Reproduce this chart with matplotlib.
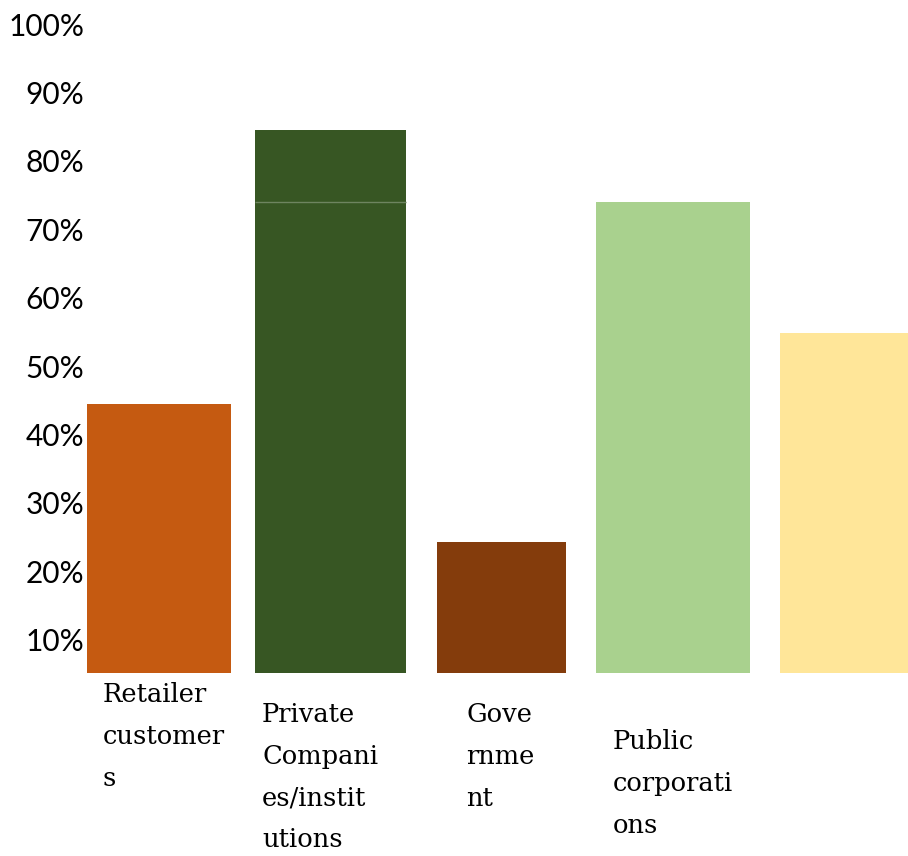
import matplotlib
matplotlib.use("Agg")
import matplotlib.pyplot as plt

# datos
categorias = ["Retailer\ncustomer\ns", "Private\nCompani\nes/instit\nutions",
              "Gove\nrnme\nnt", "Public\ncorporati\nons", ""]
valores = [44.5, 84.5, 24.3, 74.0, 54.8]
ticks = [10, 20, 30, 40, 50, 60, 70, 80, 90, 100]
etiquetas_ticks = [f"{t}%" for t in ticks]

colores = ["#C55A11", "#375623", "#843C0C", "#A9D18E", "#FFE699"]
anchos = [0.84, 0.88, 0.75, 0.90, 0.75]

W, H = 908, 856
fig = plt.figure(figsize=(W / 100, H / 100), dpi=100)

# ejes: de px 87 a 908 en x, de px 10 a 673 en y
ax = fig.add_axes([87 / W, 1 - 673 / H, (W - 87) / W, 663 / H])
x = list(range(len(valores)))
ax.bar(x, valores, width=anchos, color=colores, zorder=2)
# linea clara que cruza la barra verde oscura
ax.hlines(valores[3], x[1] - anchos[1] / 2, x[1] + anchos[1] / 2,
          color="#6E8460", lw=1, zorder=3)

ax.set_xlim(-0.42, 4.374)
ax.set_ylim(5.12, 102.06)
ax.set_yticks(ticks)
ax.set_yticklabels(etiquetas_ticks, family="Lato", fontsize=21.5)
ax.tick_params(axis="y", length=0, pad=2)
ax.set_xticks([])
for s in ax.spines.values():
    s.set_visible(False)

# etiquetas de categoria (posiciones en px del original)
pos_texto = [(103, 682), (262, 702), (466, 702), (613, 729), (780, 700)]
for cat, (px, py) in zip(categorias, pos_texto):
    if cat:
        fig.text(px / W, 1 - py / H, cat, family="DejaVu Serif", fontsize=18.5,
                 va="top", ha="left", linespacing=1.84)

fig.savefig("out.png", dpi=100)
